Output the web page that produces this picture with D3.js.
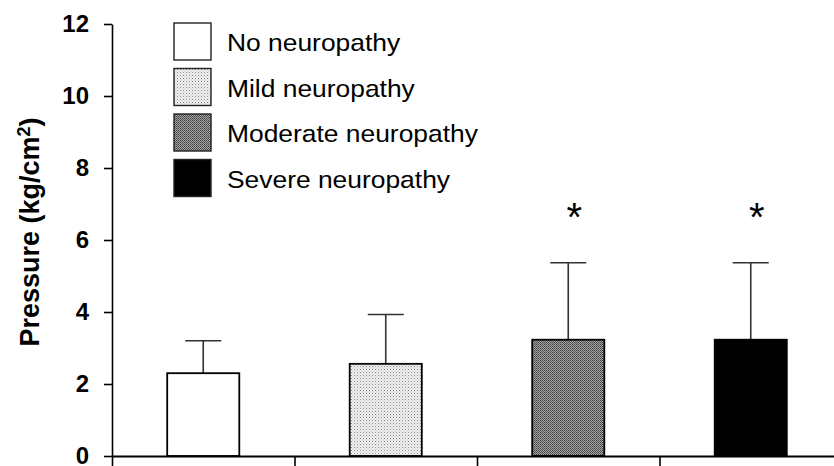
<!DOCTYPE html>
<html>
<head>
<meta charset="utf-8">
<script src="https://cdn.jsdelivr.net/npm/d3@7"></script>
<style>
  body { margin: 0; background: #fff; }
  svg { display: block; font-family: "Liberation Sans", Arial, sans-serif; }
</style>
</head>
<body>
<div id="chart"></div>
<script>
// Datos
const groups = ["No neuropathy", "Mild neuropathy", "Moderate neuropathy", "Severe neuropathy"];
const means = [2.30, 2.56, 3.23, 3.23];
const sds = [0.90, 1.37, 2.14, 2.14];
const significant = [false, false, true, true];
const yTicks = [0, 2, 4, 6, 8, 10, 12];

// Dimensiones
const width = 834;
const height = 466;

const svg = d3.select("#chart").append("svg")
    .attr("width", width)
    .attr("height", height);

// Patrones de relleno (punteado claro y trama oscura)
const defs = svg.append("defs");

const mild = defs.append("pattern")
    .attr("id", "mild")
    .attr("width", 3).attr("height", 3)
    .attr("patternUnits", "userSpaceOnUse");
mild.append("rect").attr("width", 3).attr("height", 3).attr("fill", "#f2f2f2");
mild.append("rect").attr("x", 0).attr("y", 0).attr("width", 1).attr("height", 1).attr("fill", "#8a8a8a");
mild.append("rect").attr("x", 1.5).attr("y", 1.5).attr("width", 1).attr("height", 1).attr("fill", "#b0b0b0");

const moderate = defs.append("pattern")
    .attr("id", "moderate")
    .attr("width", 2).attr("height", 2)
    .attr("patternUnits", "userSpaceOnUse");
moderate.append("rect").attr("width", 2).attr("height", 2).attr("fill", "#a8a8a8");
moderate.append("rect").attr("x", 0).attr("y", 0).attr("width", 1).attr("height", 1).attr("fill", "#3a3a3a");
moderate.append("rect").attr("x", 1).attr("y", 1).attr("width", 1).attr("height", 1).attr("fill", "#555");

const fills = ["#ffffff", "url(#mild)", "url(#moderate)", "#000000"];

// Escalas
const x = d3.scaleBand()
    .domain(groups)
    .range([112, 842])
    .paddingInner(0.605)
    .paddingOuter(0.3025);

// Escala auxiliar para los ticks entre categorías
const xEdge = d3.scaleLinear()
    .domain([0, groups.length])
    .range([112, 842]);

const y = d3.scaleLinear()
    .domain([0, 12])
    .range([456, 24]);

// Barras de error (solo hacia arriba)
const err = svg.append("g")
    .attr("stroke", "#333")
    .attr("stroke-width", 1.6);

groups.forEach((g, i) => {
    const cx = x(g) + x.bandwidth() / 2;
    err.append("line")
        .attr("x1", cx).attr("x2", cx)
        .attr("y1", y(means[i])).attr("y2", y(means[i] + sds[i]));
    err.append("line")
        .attr("x1", cx - 18).attr("x2", cx + 18)
        .attr("y1", y(means[i] + sds[i])).attr("y2", y(means[i] + sds[i]));
});

// Barras
svg.selectAll("rect.bar")
    .data(groups)
    .enter()
    .append("rect")
    .attr("class", "bar")
    .attr("x", d => x(d))
    .attr("y", (d, i) => y(means[i]))
    .attr("width", x.bandwidth())
    .attr("height", (d, i) => y(0) - y(means[i]))
    .attr("fill", (d, i) => fills[i])
    .attr("stroke", "#000")
    .attr("stroke-width", 1.8);

// Asteriscos de significación
groups.forEach((g, i) => {
    if (!significant[i]) return;
    svg.append("text")
        .attr("x", x(g) + x.bandwidth() / 2 + 6)
        .attr("y", y(means[i] + sds[i] + 1.45) + 21)
        .attr("text-anchor", "middle")
        .style("font-size", "40px")
        .text("*");
});

// Ejes
const xAxis = svg.append("g")
    .attr("transform", `translate(0,${y(0)})`)
    .call(d3.axisBottom(xEdge)
        .tickValues(d3.range(groups.length + 1))
        .tickSize(10)
        .tickSizeOuter(0)
        .tickFormat(""));
xAxis.select(".domain").attr("stroke-width", 2);
xAxis.selectAll(".tick line").attr("stroke-width", 1.6);

const yAxis = svg.append("g")
    .attr("transform", "translate(112,0)")
    .call(d3.axisLeft(y)
        .tickValues(yTicks)
        .tickSize(8)
        .tickSizeOuter(0)
        .tickPadding(15));
yAxis.select(".domain").attr("stroke-width", 1.6);
yAxis.selectAll(".tick line").attr("stroke-width", 1.6);
yAxis.selectAll(".tick text")
    .style("font-size", "24px")
    .style("font-weight", "bold")
    .attr("fill", "#000");

// Título del eje Y
const title = svg.append("text")
    .attr("transform", "translate(39,232) rotate(-90)")
    .attr("text-anchor", "middle")
    .style("font-size", "27px")
    .style("font-weight", "bold");
title.append("tspan").text("Pressure (kg/cm");
title.append("tspan").attr("dy", -9).style("font-size", "18px").text("2");
title.append("tspan").attr("dy", 9).text(")");

// Leyenda
const legend = svg.append("g");
groups.forEach((g, i) => {
    const ly = 23 + i * 45.5;
    legend.append("rect")
        .attr("x", 174).attr("y", ly)
        .attr("width", 37).attr("height", 37)
        .attr("fill", fills[i])
        .attr("stroke", "#222")
        .attr("stroke-width", 1.4);
    legend.append("text")
        .attr("transform", `translate(227,${ly + 28}) scale(1.1,1)`)
        .style("font-size", "24px")
        .text(g);
});
</script>
</body>
</html>
